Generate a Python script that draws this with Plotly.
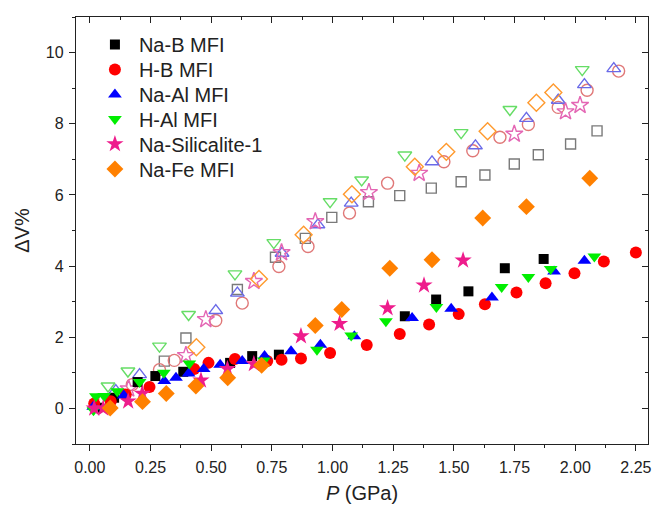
import plotly.graph_objects as go

# ---- data (P in GPa, ΔV in %) ----
nab_p = [0.03, 0.10, 0.197, 0.270, 0.385, 0.578, 0.669, 0.779, 1.298, 1.427, 1.560, 1.710, 1.870]
nab_dv = [0.02, 0.30, 0.74, 0.91, 1.03, 1.28, 1.47, 1.51, 2.59, 3.06, 3.29, 3.94, 4.20]
nab_open_p = [0.05, 0.307, 0.396, 0.608, 0.765, 0.888, 0.997, 1.148, 1.277, 1.407, 1.530, 1.628, 1.749, 1.848, 1.981, 2.090]
nab_open_dv = [0.25, 1.33, 1.98, 3.34, 4.25, 4.78, 5.37, 5.81, 5.98, 6.19, 6.37, 6.56, 6.87, 7.13, 7.43, 7.80]

hb_p = [0.018, 0.086, 0.148, 0.246, 0.430, 0.489, 0.598, 0.731, 0.790, 0.870, 0.990, 1.141, 1.277, 1.398, 1.520, 1.628, 1.758, 1.878, 1.997, 2.118, 2.250]
hb_dv = [0.14, 0.20, 0.39, 0.60, 1.11, 1.28, 1.39, 1.33, 1.37, 1.40, 1.56, 1.78, 2.09, 2.36, 2.65, 2.93, 3.26, 3.52, 3.80, 4.13, 4.38]
hb_open_p = [0.06, 0.175, 0.287, 0.348, 0.519, 0.628, 0.779, 0.899, 1.070, 1.227, 1.459, 1.578, 1.690, 1.807, 1.930, 2.049, 2.179]
hb_open_dv = [0.22, 0.67, 1.09, 1.35, 2.47, 2.96, 3.99, 4.55, 5.49, 6.33, 6.93, 7.24, 7.62, 7.98, 8.46, 8.94, 9.48]

naal_p = [0.014, 0.140, 0.307, 0.355, 0.407, 0.469, 0.537, 0.628, 0.720, 0.829, 0.950, 1.090, 1.328, 1.489, 1.657, 1.913, 2.038]
naal_dv = [0.05, 0.36, 0.77, 0.86, 0.98, 1.11, 1.23, 1.33, 1.47, 1.61, 1.79, 2.03, 2.54, 2.80, 3.12, 3.85, 4.15]
naal_open_p = [0.107, 0.205, 0.519, 0.608, 0.792, 0.940, 1.077, 1.410, 1.589, 1.799, 1.930, 2.038, 2.159]
naal_open_dv = [0.50, 0.95, 2.75, 3.24, 4.36, 5.16, 5.77, 6.93, 7.38, 8.15, 8.66, 9.10, 9.55]

hal_p = [0.015, 0.025, 0.059, 0.113, 0.205, 0.305, 0.410, 0.717, 0.936, 1.077, 1.220, 1.428, 1.697, 1.807, 1.899, 2.079]
hal_dv = [-0.05, 0.34, 0.35, 0.48, 0.74, 1.00, 1.26, 1.35, 1.65, 2.05, 2.45, 2.85, 3.41, 3.69, 3.92, 4.27]
hal_open_p = [0.075, 0.157, 0.287, 0.407, 0.598, 0.758, 0.990, 1.120, 1.298, 1.530, 1.731, 2.029]
hal_open_dv = [0.63, 1.05, 1.75, 2.64, 3.78, 4.66, 5.81, 6.42, 7.12, 7.75, 8.40, 9.52]

nasil_p = [0.018, 0.055, 0.158, 0.216, 0.458, 0.567, 0.676, 0.870, 1.029, 1.227, 1.377, 1.538]
nasil_dv = [0.00, 0.00, 0.20, 0.42, 0.79, 1.11, 1.25, 2.03, 2.38, 2.82, 3.46, 4.16]
nasil_open_p = [0.16, 0.396, 0.478, 0.676, 0.790, 0.929, 1.150, 1.357, 1.749, 1.960, 2.020]
nasil_open_dv = [0.55, 1.49, 2.50, 3.57, 4.38, 5.25, 6.07, 6.61, 7.71, 8.34, 8.52]

nafe_p = [0.084, 0.217, 0.315, 0.437, 0.568, 0.708, 0.929, 1.038, 1.236, 1.410, 1.619, 1.799, 2.060]
nafe_dv = [0.01, 0.19, 0.42, 0.63, 0.86, 1.21, 2.33, 2.78, 3.94, 4.18, 5.35, 5.67, 6.47]
nafe_open_p = [0.439, 0.697, 0.881, 1.080, 1.339, 1.469, 1.639, 1.840, 1.910]
nafe_open_dv = [1.72, 3.64, 4.88, 6.02, 6.79, 7.21, 7.79, 8.59, 8.88]

series = [
    ("Na-B MFI", nab_p, nab_dv, nab_open_p, nab_open_dv, "square", "#000000", "#7a7a7a", 10),
    ("H-B MFI", hb_p, hb_dv, hb_open_p, hb_open_dv, "circle", "#ff0000", "#e07878", 12),
    ("Na-Al MFI", naal_p, naal_dv, naal_open_p, naal_open_dv, "triangle-up", "#0000ff", "#6a6ae8", 12),
    ("H-Al MFI", hal_p, hal_dv, hal_open_p, hal_open_dv, "triangle-down", "#00ee00", "#66dd66", 12),
    ("Na-Silicalite-1", nasil_p, nasil_dv, nasil_open_p, nasil_open_dv, "star", "#ee1c8c", "#e466b4", 13),
    ("Na-Fe MFI", nafe_p, nafe_dv, nafe_open_p, nafe_open_dv, "diamond", "#ff8000", "#ff9a2e", 13),
]

fig = go.Figure()

for name, p, dv, po, dvo, sym, col, ocol, sz in series:
    fig.add_trace(go.Scatter(
        x=po, y=dvo, mode="markers", showlegend=False, hoverinfo="skip",
        marker=dict(symbol=sym + "-open", size=sz, color=ocol, line=dict(width=1.4, color=ocol)),
    ))

legend_ids = ["legend", "legend2", "legend3", "legend4", "legend5", "legend6"]
for (name, p, dv, po, dvo, sym, col, ocol, sz), lid in zip(series, legend_ids):
    fig.add_trace(go.Scatter(
        x=p, y=dv, mode="markers", name=name, legend=lid,
        marker=dict(symbol=sym, size=sz, color=col, line=dict(width=0)),
    ))

# dummy trace for the mirrored (inward-tick) top/right axes
fig.add_trace(go.Scatter(x=[None], y=[None], xaxis="x2", yaxis="y2", showlegend=False, hoverinfo="skip"))

xr = [-0.057, 2.30]
yr = [-1.0, 11.0]
axis_col = "#222222"
font_family = "Liberation Sans, Arial, sans-serif"
tick_font = dict(family=font_family, size=16, color="#222222")

plot_top, plot_h = 17, 427
legend_rows_px = [44.5, 69.5, 94.5, 119.0, 144.0, 169.0]
legend_left_px = 91
legends = {}
for lid, py in zip(legend_ids, legend_rows_px):
    legends[lid] = dict(
        x=(legend_left_px - 76) / 575, y=1 - (py - plot_top) / plot_h,
        xanchor="left", yanchor="middle", bgcolor="rgba(0,0,0,0)",
        font=dict(family=font_family, size=20, color="#222222"), itemwidth=38,
    )

fig.update_layout(
    width=654, height=509,
    margin=dict(l=76, r=3, t=17, b=65),
    paper_bgcolor="white", plot_bgcolor="white",
    font=dict(family=font_family, color="#222222"),
    xaxis=dict(
        range=xr, tick0=0, dtick=0.25, tickformat=".2f", ticks="outside", ticklen=6, tickwidth=1.2,
        tickcolor=axis_col, showline=True, linecolor=axis_col, linewidth=1.3, mirror=True,
        showgrid=False, zeroline=False, tickfont=tick_font, ticklabelstandoff=3,
        ticklabeloverflow="allow",
        minor=dict(dtick=0.125, tick0=0, ticks="outside", ticklen=3, tickwidth=1.2, tickcolor=axis_col),
        title=dict(text="<i>P</i> (GPa)", font=dict(family=font_family, size=20, color="#222222"), standoff=10),
    ),
    yaxis=dict(
        range=yr, tick0=0, dtick=2, ticks="outside", ticklen=6, tickwidth=1.2,
        tickcolor=axis_col, showline=True, linecolor=axis_col, linewidth=1.3, mirror=True,
        showgrid=False, zeroline=False, tickfont=tick_font, ticklabelstandoff=2,
        minor=dict(dtick=1, tick0=0, ticks="outside", ticklen=3, tickwidth=1.2, tickcolor=axis_col),
        title=dict(text="ΔV%", font=dict(family=font_family, size=20, color="#222222"), standoff=10),
    ),
    xaxis2=dict(
        range=xr, overlaying="x", side="top", tick0=0, dtick=0.25, ticks="inside", ticklen=6,
        tickwidth=1.2, tickcolor=axis_col, showticklabels=False, showgrid=False, zeroline=False,
        showline=True, linecolor=axis_col, linewidth=1.3,
        minor=dict(dtick=0.125, tick0=0, ticks="inside", ticklen=3, tickwidth=1.2, tickcolor=axis_col),
    ),
    yaxis2=dict(
        range=yr, overlaying="y", side="right", tick0=0, dtick=2, ticks="inside", ticklen=6,
        tickwidth=1.2, tickcolor=axis_col, showticklabels=False, showgrid=False, zeroline=False,
        showline=True, linecolor=axis_col, linewidth=1.3,
        minor=dict(dtick=1, tick0=0, ticks="inside", ticklen=3, tickwidth=1.2, tickcolor=axis_col),
    ),
    **legends,
)

fig.write_html(
    "out.html",
    config={"displayModeBar": False},
    post_script="document.body.style.margin='0px';document.body.style.overflow='hidden';",
)
